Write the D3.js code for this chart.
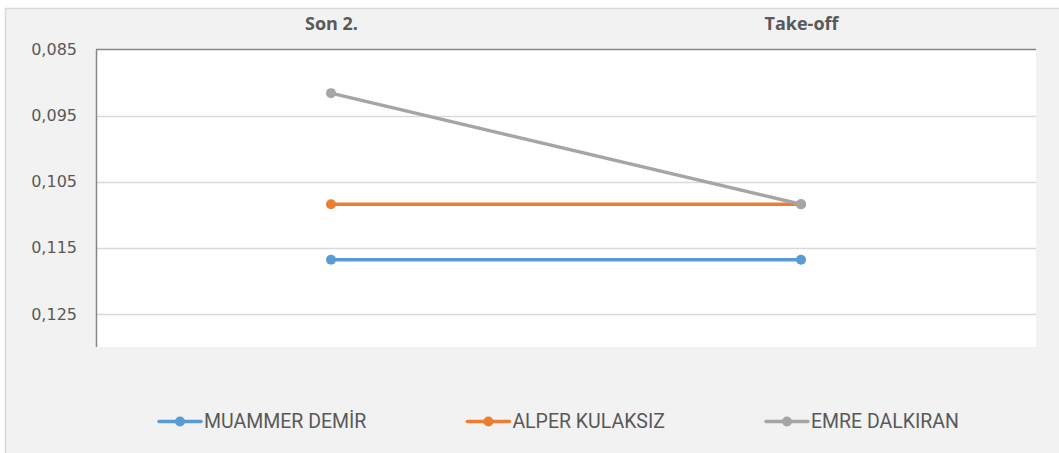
<!DOCTYPE html>
<html>
<head>
<meta charset="utf-8">
<script src="https://cdn.jsdelivr.net/npm/d3@7"></script>
<style>
  html, body { margin: 0; padding: 0; background: #ffffff; }
  svg { display: block; }
</style>
</head>
<body>
<svg id="chart" width="1059" height="453"></svg>
<script>
// Chart data:
var categories = ["Son 2.", "Take-off"];
var seriesNames = ["MUAMMER DEMİR", "ALPER KULAKSIZ", "EMRE DALKIRAN"];
var muammerValues = [0.1168, 0.1168];
var alperValues = [0.1084, 0.1084];
var emreValues = [0.0916, 0.1084];
var yTicks = [0.085, 0.095, 0.105, 0.115, 0.125];
var yDomain = [0.085, 0.13];

var seriesColors = ["#5b9bd5", "#ed7d31", "#a5a5a5"];
var series = [muammerValues, alperValues, emreValues].map(function(values, i) {
  return { name: seriesNames[i], color: seriesColors[i], values: values };
});

var svg = d3.select("#chart");

// Outer chart area (light grey, border only visible top & left):
svg.append("rect")
  .attr("x", 5.5).attr("y", 8.5)
  .attr("width", 1070).attr("height", 460)
  .attr("fill", "#f2f2f2")
  .attr("stroke", "#d9d9d9")
  .attr("stroke-width", 1.5);

var plot = { left: 96, right: 1036, top: 49.5, bottom: 347 };

// White plot area:
svg.append("rect")
  .attr("x", plot.left).attr("y", plot.top)
  .attr("width", plot.right - plot.left).attr("height", plot.bottom - plot.top)
  .attr("fill", "#ffffff");

var x = d3.scalePoint()
  .domain(categories)
  .range([plot.left, plot.right])
  .padding(0.5);

// The value axis is reversed: small values at the top.
var y = d3.scaleLinear()
  .domain(yDomain)
  .range([plot.top, plot.bottom]);

// Gridlines (skip the first, it is the top axis line):
svg.selectAll("line.grid")
  .data(yTicks.slice(1))
  .enter().append("line")
  .attr("class", "grid")
  .attr("x1", plot.left).attr("x2", plot.right)
  .attr("y1", function(d) { return Math.round(y(d)) + 0.5; })
  .attr("y2", function(d) { return Math.round(y(d)) + 0.5; })
  .attr("stroke", "#d9d9d9")
  .attr("stroke-width", 1.5);

// Y tick labels with a decimal comma:
var fmt = d3.format(".3f");
var yAxis = svg.append("g")
  .attr("transform", "translate(" + plot.left + ",0)")
  .call(d3.axisLeft(y)
    .tickValues(yTicks)
    .tickSize(0)
    .tickPadding(19)
    .tickFormat(function(d) { return fmt(d).replace(".", ","); }));
yAxis.select(".domain").remove();
yAxis.selectAll("text")
  .attr("font-family", "DejaVu Sans")
  .attr("font-size", "16px")
  .attr("fill", "#595959");

// Category labels on top:
var xAxis = svg.append("g")
  .attr("transform", "translate(0," + plot.top + ")")
  .call(d3.axisTop(x).tickSize(0).tickPadding(20));
xAxis.select(".domain").remove();
xAxis.selectAll("text")
  .attr("font-family", "Open Sans")
  .attr("font-weight", "bold")
  .attr("font-size", "18px")
  .attr("fill", "#595959");

// Axis lines:
svg.append("line")
  .attr("x1", plot.left).attr("x2", plot.right)
  .attr("y1", plot.top).attr("y2", plot.top)
  .attr("stroke", "#868686").attr("stroke-width", 1.5);
svg.append("line")
  .attr("x1", plot.left + 0.5).attr("x2", plot.left + 0.5)
  .attr("y1", plot.top).attr("y2", plot.bottom)
  .attr("stroke", "#868686").attr("stroke-width", 1.5);

// Lines and markers:
var line = d3.line()
  .x(function(d, i) { return x(categories[i]); })
  .y(function(d) { return y(d); });

series.forEach(function(s) {
  svg.append("path")
    .attr("d", line(s.values))
    .attr("fill", "none")
    .attr("stroke", s.color)
    .attr("stroke-width", 3.5)
    .attr("stroke-linecap", "round");

  svg.selectAll(null)
    .data(s.values)
    .enter().append("circle")
    .attr("cx", function(d, i) { return x(categories[i]); })
    .attr("cy", function(d) { return y(d); })
    .attr("r", 5)
    .attr("fill", s.color);
});

// Legend, laid out from the measured text widths:
var legendY = 421.5;
var legend = svg.append("g");
var items = legend.selectAll("g")
  .data(series)
  .enter().append("g");

items.append("line")
  .attr("x1", 0).attr("x2", 42)
  .attr("y1", legendY).attr("y2", legendY)
  .attr("stroke", function(d) { return d.color; })
  .attr("stroke-width", 3.5)
  .attr("stroke-linecap", "round");
items.append("circle")
  .attr("cx", 21).attr("cy", legendY).attr("r", 5)
  .attr("fill", function(d) { return d.color; });
items.append("text")
  .attr("x", 45)
  .attr("y", legendY)
  .attr("dy", "0.35em")
  .attr("font-family", "Roboto")
  .attr("font-size", "19.5px")
  .attr("fill", "#595959")
  .text(function(d) { return d.name; });

var gap = 101;
var widths = [];
items.each(function() { widths.push(this.getBBox().width); });
var total = d3.sum(widths) + gap * (widths.length - 1);
var start = 559 - total / 2;
items.attr("transform", function(d, i) {
  var off = start + d3.sum(widths.slice(0, i)) + gap * i;
  return "translate(" + off + ",0)";
});
</script>
</body>
</html>
